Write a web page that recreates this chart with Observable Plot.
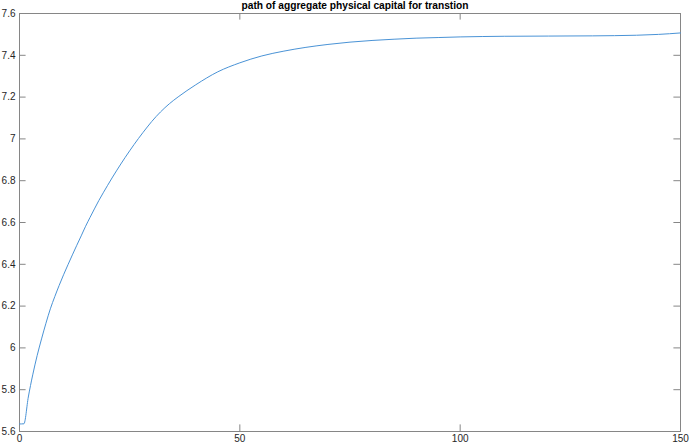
<!DOCTYPE html>
<html>
<head>
<meta charset="utf-8">
<script src="https://cdn.jsdelivr.net/npm/d3@7"></script>
<script src="https://cdn.jsdelivr.net/npm/@observablehq/plot@0.6"></script>
<style>
  html, body { margin: 0; padding: 0; background: #fff; }
  #chart svg { display: block; }
</style>
</head>
<body>
<div id="chart"></div>
<script>
const titleText = "path of aggregate physical capital for transtion";

const periods = [0, 1, 2, 3, 4, 5, 6, 7, 8, 9, 10, 11, 12, 13, 14, 15, 16, 17, 18, 19, 20,
  21, 22, 23, 24, 25, 26, 27, 28, 29, 30, 32, 34, 36, 38, 40, 45, 50, 55, 60, 65, 70,
  75, 80, 85, 90, 95, 100, 110, 120, 130, 135, 140, 145, 150];
const capital = [5.636, 5.637, 5.765, 5.871, 5.963, 6.043, 6.118, 6.187, 6.245, 6.299, 6.350,
  6.398, 6.445, 6.491, 6.536, 6.582, 6.624, 6.665, 6.705, 6.742, 6.778,
  6.813, 6.847, 6.880, 6.912, 6.943, 6.973, 7.002, 7.030, 7.057, 7.083, 7.129, 7.168, 7.201, 7.231, 7.259,
  7.321, 7.364, 7.397, 7.420, 7.438, 7.452, 7.463, 7.471, 7.477, 7.482, 7.485, 7.488,
  7.491, 7.492, 7.493, 7.494, 7.496, 7.500, 7.507];

const xTicks = [0, 50, 100, 150];
const xTickLabels = ["0", "50", "100", "150"];
const yTicks = [5.6, 5.8, 6.0, 6.2, 6.4, 6.6, 6.8, 7.0, 7.2, 7.4, 7.6];
const yTickLabels = ["5.6", "5.8", "6", "6.2", "6.4", "6.6", "6.8", "7", "7.2", "7.4", "7.6"];

const data = periods.map((p, i) => ({period: p, capital: capital[i]}));

const W = 690, H = 445;
const mL = 19, mR = 10, mT = 13, mB = 14;
const innerW = W - mL - mR, innerH = H - mT - mB;
const tickLen = 6.6;
const axisColor = "#868686";
const labelColor = "#262626";

const chart = Plot.plot({
  width: W,
  height: H,
  marginLeft: mL,
  marginRight: mR,
  marginTop: mT,
  marginBottom: mB,
  style: {fontFamily: "Arial, 'Liberation Sans', Helvetica, sans-serif", fontSize: "10px", color: labelColor, background: "#fff"},
  x: {domain: [0, 150]},
  y: {domain: [5.6, 7.6]},
  marks: [
    Plot.frame({stroke: axisColor, strokeWidth: 1}),
    // inward ticks: left, right, bottom, top
    Plot.tickY(yTicks, {y: d => d, stroke: axisColor, insetRight: innerW - tickLen}),
    Plot.tickY(yTicks, {y: d => d, stroke: axisColor, insetLeft: innerW - tickLen}),
    Plot.tickX(xTicks, {x: d => d, stroke: axisColor, insetTop: innerH - tickLen}),
    Plot.tickX(xTicks, {x: d => d, stroke: axisColor, insetBottom: innerH - tickLen}),
    Plot.axisY({ticks: yTicks, tickSize: 0, tickPadding: 4, label: null,
      tickFormat: d => yTickLabels[yTicks.findIndex(t => Math.abs(t - d) < 1e-9)], fill: labelColor}),
    Plot.axisX({ticks: xTicks, tickSize: 0, tickPadding: 3, label: null,
      tickFormat: d => xTickLabels[xTicks.indexOf(d)], fill: labelColor}),
    Plot.line(data, {x: "period", y: "capital", stroke: "#4a93d6", strokeWidth: 1, curve: "monotone-x"}),
    Plot.text([titleText], {frameAnchor: "top", lineAnchor: "bottom", dy: -5, dx: 5,
      fontWeight: "bold", fontSize: 10.2, fill: "#000"})
  ]
});
document.getElementById("chart").appendChild(chart);
</script>
</body>
</html>
